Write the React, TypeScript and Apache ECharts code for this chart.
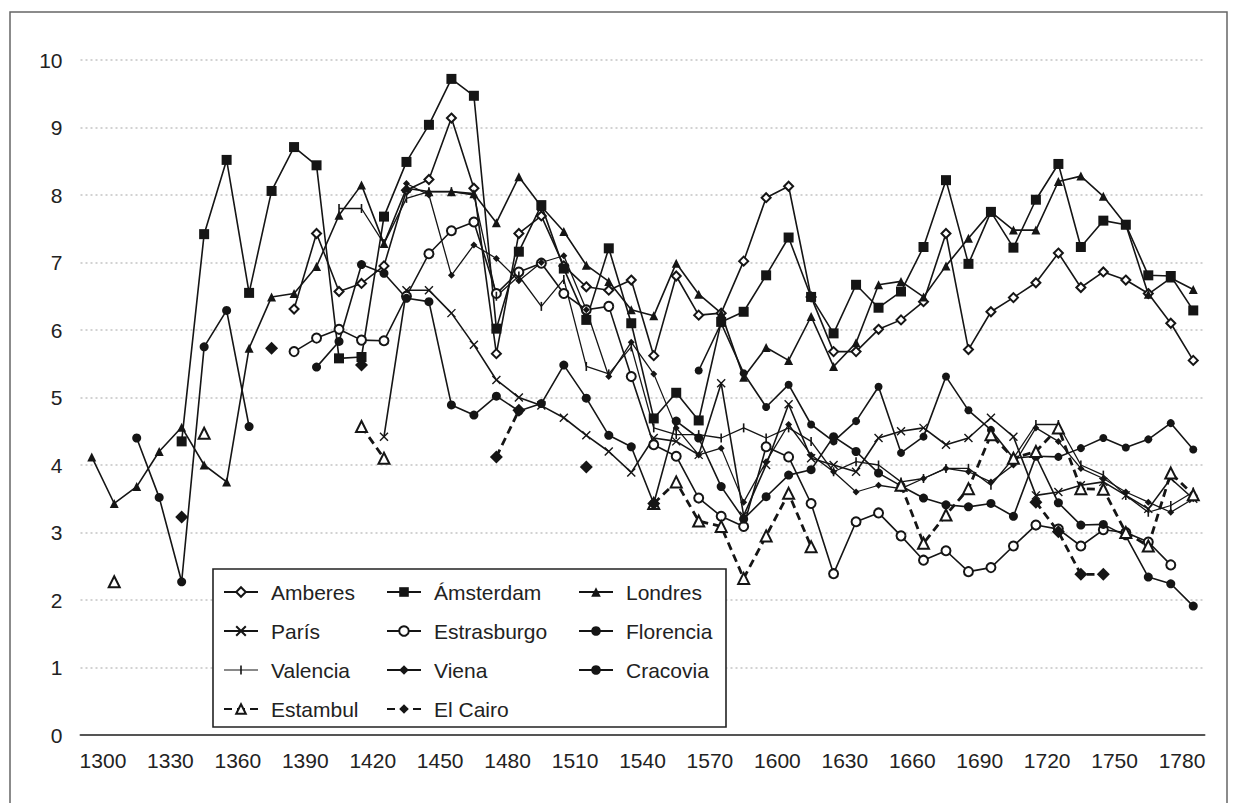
import React, { useEffect, useRef } from 'react';
import * as echarts from 'echarts';

const _ = null;
const FONT = '"Liberation Sans", Arial, Helvetica, sans-serif';

const years = [1295, 1305, 1315, 1325, 1335, 1345, 1355, 1365, 1375, 1385,
  1395, 1405, 1415, 1425, 1435, 1445, 1455, 1465, 1475, 1485,
  1495, 1505, 1515, 1525, 1535, 1545, 1555, 1565, 1575, 1585,
  1595, 1605, 1615, 1625, 1635, 1645, 1655, 1665, 1675, 1685,
  1695, 1705, 1715, 1725, 1735, 1745, 1755, 1765, 1775, 1785];

const xTickLabels = [1300, 1330, 1360, 1390, 1420, 1450, 1480, 1510, 1540, 1570, 1600, 1630, 1660, 1690, 1720, 1750, 1780];

const amberes = [_, _, _, _, _, _, _, _, _, 6.31,
  7.43, 6.57, 6.69, 6.95, 8.07, 8.23, 9.14, 8.10, 5.65, 7.43,
  7.69, 6.95, 6.64, 6.59, 6.74, 5.62, 6.80, 6.22, 6.25, 7.02,
  7.96, 8.13, 6.49, 5.68, 5.68, 6.01, 6.15, 6.42, 7.43, 5.71,
  6.27, 6.48, 6.70, 7.14, 6.63, 6.86, 6.74, 6.54, 6.10, 5.55];

const amsterdam = [_, _, _, _, 4.35, 7.42, 8.52, 6.55, 8.06, 8.71,
  8.44, 5.58, 5.60, 7.68, 8.49, 9.04, 9.72, 9.47, 6.02, 7.16,
  7.85, 6.91, 6.15, 7.21, 6.10, 4.69, 5.07, 4.66, 6.12, 6.27,
  6.81, 7.37, 6.49, 5.95, 6.67, 6.33, 6.57, 7.23, 8.22, 6.98,
  7.75, 7.22, 7.93, 8.46, 7.23, 7.62, 7.56, 6.81, 6.80, 6.29];

const londres = [4.12, 3.43, 3.68, 4.20, 4.56, 4.00, 3.75, 5.73, 6.49, 6.54,
  6.94, 7.70, 8.15, 7.28, 8.10, 8.05, 8.05, 8.02, 7.59, 8.27,
  7.83, 7.46, 6.96, 6.72, 6.30, 6.21, 6.99, 6.53, 6.25, 5.30,
  5.74, 5.55, 6.20, 5.46, 5.81, 6.67, 6.72, 6.49, 6.95, 7.36,
  7.75, 7.48, 7.48, 8.20, 8.28, 7.98, 7.56, 6.53, 6.77, 6.60];

const paris = [_, _, _, _, _, _, _, _, _, _,
  _, _, _, 4.42, 6.59, 6.59, 6.25, 5.78, 5.26, 5.00,
  4.88, 4.70, 4.44, 4.20, 3.89, 4.40, 4.35, 4.15, 5.21, 3.25,
  4.00, 4.90, 4.10, 4.00, 3.90, 4.40, 4.50, 4.55, 4.30, 4.40,
  4.70, 4.42, 3.55, 3.60, 3.70, 3.75, 3.55, 3.35, 3.80, 3.50];

const estrasburgo = [_, _, _, _, _, _, _, _, _, 5.68,
  5.88, 6.01, 5.85, 5.84, 6.50, 7.13, 7.47, 7.60, 6.54, 6.86,
  6.99, 6.54, 6.30, 6.35, 5.31, 4.30, 4.13, 3.51, 3.24, 3.09,
  4.27, 4.12, 3.43, 2.39, 3.16, 3.29, 2.95, 2.59, 2.73, 2.42,
  2.48, 2.80, 3.11, 3.05, 2.80, 3.04, 3.00, 2.86, 2.52, _];

const florencia = [_, _, 4.40, 3.52, 2.27, 5.75, 6.29, 4.57, _, _,
  5.45, 5.83, 6.97, 6.84, 6.47, 6.42, 4.89, 4.74, 5.02, 4.80,
  4.91, 5.48, 4.99, 4.44, 4.27, 3.43, 4.65, 4.40, 3.68, 3.20,
  3.53, 3.85, 3.93, 4.42, 4.20, 3.88, 3.69, 3.51, 3.41, 3.38,
  3.43, 3.24, 4.13, 3.44, 3.11, 3.12, 2.95, 2.34, 2.24, 1.91];

const valencia = [_, _, _, _, _, _, _, _, _, _,
  _, 7.80, 7.80, 7.28, 7.95, 8.05, 8.05, 8.00, 6.50, 6.80,
  6.35, 6.75, 5.46, 5.35, 5.75, 4.55, 4.45, 4.45, 4.40, 4.55,
  4.40, 4.55, 4.35, 3.90, 4.05, 4.00, 3.75, 3.80, 3.95, 3.95,
  3.70, 4.10, 4.60, 4.60, 4.00, 3.85, 3.55, 3.30, 3.40, 3.60];

const viena = [_, _, _, _, _, _, _, _, _, _,
  _, _, _, _, 8.17, 8.00, 6.81, 7.26, 7.06, 6.73,
  7.00, 7.10, 6.30, 5.31, 5.82, 5.35, 4.55, 4.15, 4.25, 3.45,
  4.05, 4.60, 4.15, 3.90, 3.60, 3.70, 3.65, 3.80, 3.95, 3.90,
  3.75, 4.00, 4.55, 4.35, 3.95, 3.80, 3.60, 3.45, 3.30, 3.50];

const cracovia = [_, _, _, _, _, _, _, _, _, _,
  _, _, _, _, _, _, _, _, _, _,
  _, _, _, _, _, _, _, 5.40, 6.10, 5.36,
  4.86, 5.19, 4.60, 4.35, 4.65, 5.16, 4.18, 4.42, 5.31, 4.81,
  4.52, 4.10, 4.13, 4.12, 4.25, 4.40, 4.26, 4.38, 4.62, 4.23];

const estambul = [_, 2.27, _, _, _, 4.47, _, _, _, _,
  _, _, 4.57, 4.10, _, _, _, _, _, _,
  _, _, _, _, _, 3.43, 3.75, 3.17, 3.09, 2.32,
  2.95, 3.58, 2.79, _, _, _, 3.70, 2.84, 3.26, 3.65,
  4.45, 4.10, 4.20, 4.55, 3.65, 3.64, 3.00, 2.80, 3.88, 3.56];

const elCairo = [_, _, _, _, 3.23, _, _, _, 5.73, _,
  _, _, 5.48, _, _, _, _, _, 4.12, 4.81,
  _, _, 3.97, _, _, 3.43, _, _, _, _,
  _, _, _, _, _, _, _, _, _, _,
  _, _, 3.45, 3.01, 2.38, 2.38, _, _, _, _];

const INK = '#151515';

function pts(vals: (number | null)[]) {
  return years.map((y, i) => [y, vals[i] == null ? '-' : vals[i]]);
}

function mk(name: string, vals: (number | null)[], symbol: string, size: any, opts: any = {}) {
  const empty = symbol.startsWith('empty');
  const item: any = { color: opts.fill ?? INK };
  if (opts.bw != null) {
    item.borderColor = INK;
    item.borderWidth = opts.bw;
  }
  if (empty) {
    item.borderColor = INK;
    item.borderWidth = opts.bw ?? 1.4;
  }
  return {
    name,
    type: 'line',
    data: pts(vals),
    symbol,
    symbolSize: size,
    showSymbol: true,
    connectNulls: false,
    lineStyle: { color: INK, width: opts.width ?? 1.6, type: opts.dash ?? 'solid' },
    itemStyle: item,
    emphasis: { disabled: true },
    z: opts.z ?? 2,
  };
}

const valenciaIcon = 'path://M0,4.4L34,4.4L34,5.6L0,5.6Z M16.2,0.5L17.8,0.5L17.8,9.5L16.2,9.5Z';

export default function App() {
  const ref = useRef<HTMLDivElement>(null);
  useEffect(() => {
    if (!ref.current) return;
    const chart = echarts.init(ref.current, undefined, { renderer: 'svg' });
    const legendCommon = {
      orient: 'vertical',
      itemWidth: 34,
      itemHeight: 12,
      itemGap: 17,
      padding: 0,
      selectedMode: false,
      z: 6,
      textStyle: { fontSize: 21, color: '#222', fontFamily: FONT, lineHeight: 22, padding: [0, 0, 0, 8] },
    };
    chart.setOption({
      animation: false,
      backgroundColor: '#fff',
      grid: { left: 80.5, right: 33.5, top: 60, bottom: 68 },
      xAxis: {
        type: 'value',
        min: 1290,
        max: 1790,
        interval: 10,
        axisLine: { show: true, onZero: false, lineStyle: { color: '#555', width: 2 } },
        axisTick: { show: false },
        splitLine: { show: false },
        axisLabel: {
          margin: 15,
          fontSize: 21,
          color: '#222',
          fontFamily: FONT,
          formatter: (v: number) => (xTickLabels.includes(v) ? String(v) : ''),
        },
      },
      yAxis: {
        type: 'value',
        min: 0,
        max: 10,
        interval: 1,
        axisLine: { show: false },
        axisTick: { show: false },
        axisLabel: { margin: 18, fontSize: 21, color: '#222', fontFamily: FONT },
        splitLine: { show: true, lineStyle: { color: '#c4c4c4', width: 1.5, type: [2, 3] } },
      },
      legend: [
        {
          ...legendCommon, left: 223, top: 581,
          data: ['Amberes', 'París', { name: 'Valencia', icon: valenciaIcon }, 'Estambul'],
        },
        { ...legendCommon, left: 386, top: 581, data: ['Ámsterdam', 'Estrasburgo', 'Viena', 'El Cairo'] },
        { ...legendCommon, left: 578, top: 581, data: ['Londres', 'Florencia', 'Cracovia'] },
      ],
      graphic: [
        {
          type: 'rect', silent: true, z: 0,
          shape: { x: 10, y: 12, width: 1217, height: 800 },
          style: { fill: 'none', stroke: '#666', lineWidth: 1.5 },
        },
        {
          type: 'rect', silent: true, z: 5,
          shape: { x: 213, y: 569, width: 513, height: 158 },
          style: { fill: '#fff', stroke: '#222', lineWidth: 1.6 },
        },
      ],
      series: [
        mk('Amberes', amberes, 'emptyDiamond', 9),
        mk('Ámsterdam', amsterdam, 'rect', 10),
        mk('Londres', londres, 'triangle', 9),
        mk('París', paris, 'path://M0,0L10,10M10,0L0,10', 8, { fill: 'none', bw: 1.4 }),
        mk('Estrasburgo', estrasburgo, 'emptyCircle', 9),
        mk('Florencia', florencia, 'circle', 9),
        mk('Valencia', valencia, 'rect', [1.6, 9], { width: 1.3 }),
        mk('Viena', viena, 'diamond', 7, { width: 1.3 }),
        mk('Cracovia', cracovia, 'circle', 8),
        mk('Estambul', estambul, 'emptyTriangle', 11, { width: 2.8, dash: [8, 5], bw: 1.5 }),
        mk('El Cairo', elCairo, 'diamond', 13, { width: 2.8, dash: [8, 5] }),
      ],
    });
    return () => chart.dispose();
  }, []);
  return (
    <div
      ref={ref}
      style={{ position: 'absolute', left: 0, top: 0, width: 1238, height: 803, background: '#fff' }}
    />
  );
}
